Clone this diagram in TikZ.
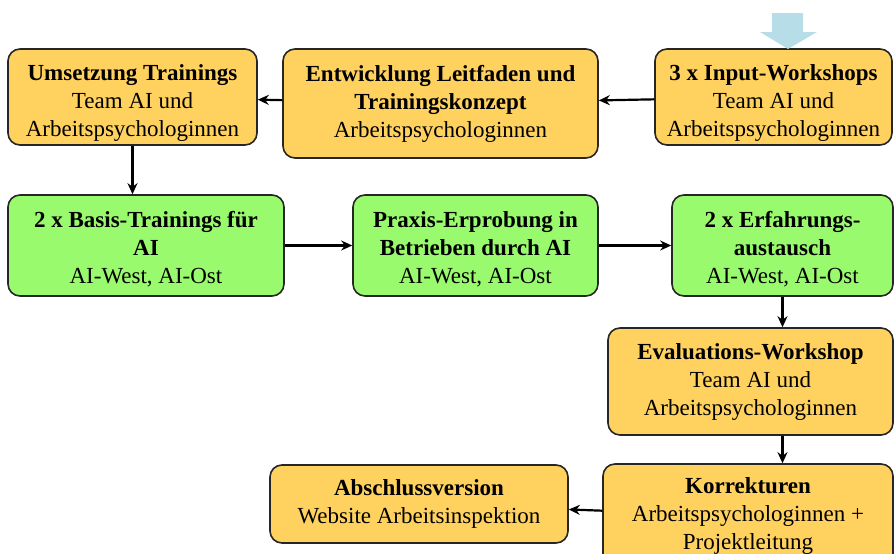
\documentclass[tikz,border=0pt]{standalone}
\usepackage{fontspec}
\setmainfont{Liberation Serif}
\usetikzlibrary{arrows.meta,positioning,calc}
\definecolor{boxorange}{RGB}{255,210,95}
\definecolor{boxgreen}{RGB}{153,250,110}
\definecolor{arrowblue}{RGB}{183,222,232}
\newcommand{\toppad}[1]{\rule{0pt}{#1}}

\begin{document}
\begin{tikzpicture}[x=1pt,y=-1pt,
  phase/.style={draw=black!85, line width=1.6pt, rounded corners=12pt, align=center, inner sep=2pt, font=\fontsize{23}{28}\selectfont},
  orangebox/.style={phase, fill=boxorange},
  greenbox/.style={phase, fill=boxgreen},
  flow/.style={-{Stealth[length=11pt,width=10pt]}, line width=2.2pt}]
\useasboundingbox (0,0) rectangle (895,554);
\clip (0,0) rectangle (895,554);
% top row
\node[orangebox, minimum width=249pt, minimum height=96pt] (umsetzung) at (132.5,97) {\toppad{28pt}\textbf{Umsetzung Trainings}\\Team AI und\\Arbeitspsychologinnen};
\node[orangebox, minimum width=315pt, minimum height=109pt] (entwicklung) at (440.5,103.5) {\textbf{Entwicklung Leitfaden und}\\\textbf{Trainingskonzept}\\Arbeitspsychologinnen};
\node[orangebox, minimum width=237pt, minimum height=96pt] (input) at (773.5,97) {\toppad{28pt}\textbf{3 x Input-Workshops}\\Team AI und\\Arbeitspsychologinnen};
\fill[arrowblue] (772,13) -- (803,13) -- (803,32) -- (817,32) -- (788,49) -- (760,32) -- (772,32) -- cycle;
% middle row
\node[greenbox, minimum width=276pt, minimum height=101pt] (basis) at (146,245.5) {\toppad{24pt}\textbf{2 x Basis-Trainings für}\\\textbf{AI}\\AI-West, AI-Ost};
\node[greenbox, minimum width=245pt, minimum height=101pt] (praxis) at (475.5,245.5) {\toppad{24pt}\textbf{Praxis-Erprobung in}\\\textbf{Betrieben durch AI}\\AI-West, AI-Ost};
\node[greenbox, minimum width=221pt, minimum height=101pt] (erfahrung) at (782.5,245.5) {\toppad{24pt}\textbf{2 x Erfahrungs-}\\\textbf{austausch}\\AI-West, AI-Ost};
% bottom
\node[orangebox, minimum width=285pt, minimum height=107pt] (evaluation) at (750.5,381.5) {\textbf{Evaluations-Workshop}\\Team AI und\\Arbeitspsychologinnen};
\node[orangebox, minimum width=290pt, minimum height=104pt] (korrekturen) at (748,516) {\textbf{Korrekturen}\\Arbeitspsychologinnen +\\Projektleitung};
\node[orangebox, minimum width=298pt, minimum height=78pt] (abschluss) at (419,504) {\textbf{Abschlussversion}\\Website Arbeitsinspektion};
% connectors
\draw[flow] (input) -- (entwicklung);
\draw[flow] (entwicklung) -- (umsetzung);
\draw[flow] (umsetzung) -- (umsetzung |- basis.north);
\draw[flow] (basis) -- (praxis);
\draw[flow] (praxis) -- (erfahrung);
\draw[flow] (erfahrung) -- (erfahrung |- evaluation.north);
\draw[flow] (evaluation.south -| erfahrung) -- (korrekturen.north -| erfahrung);
\draw[flow] (korrekturen) -- (abschluss);
\end{tikzpicture}
\end{document}
